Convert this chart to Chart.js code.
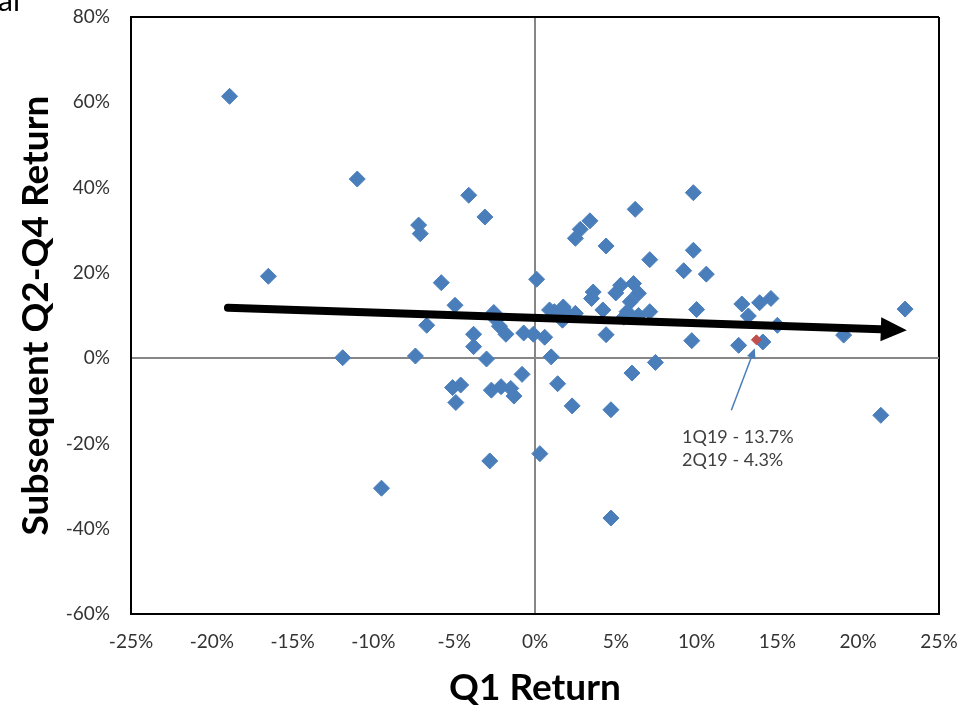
<!DOCTYPE html>
<html>
<head>
<meta charset="utf-8">
<script src="https://cdn.jsdelivr.net/npm/chart.js@4.4.0/dist/chart.umd.min.js"></script>
<style>
html,body{margin:0;padding:0;background:#fff;}
#wrap{width:971px;height:708px;position:relative;}
</style>
</head>
<body>
<div id="wrap"><canvas id="c" width="971" height="708"></canvas></div>
<script>
// Q1 return (%) for each year
const q1Returns = [
  -18.9, -16.5, -11.9, -11.0, -9.5, -7.4, -7.2, -7.1, -6.7, -5.8,
  -5.1, -4.9, -4.95, -4.6, -4.1, -3.8, -3.8, -3.1, -3.0, -2.8,
  -2.7, -2.55, -2.4, -2.2, -2.1, -1.8, -1.5, -1.3, -0.8, -0.7,
  -0.1, 0.1, 0.3, 0.6, 1.0, 0.9, 1.2, 1.75, 2.0, 1.7,
  2.5, 1.4, 2.3, 2.5, 2.8, 3.4, 3.6, 3.5, 4.2, 4.4,
  4.4, 4.7, 4.7, 5.0, 5.3, 5.7, 5.9, 5.5, 6.0, 6.1,
  6.2, 6.4, 6.4, 7.1, 7.1, 7.45, 9.2, 9.7, 9.8, 9.8,
  10.0, 10.6, 12.6, 12.8, 13.2, 13.9, 14.1, 14.6, 15.0, 19.1,
  21.4, 22.9
];
// Subsequent Q2-Q4 return (%) for the same years
const laterReturns = [
  61.4, 19.2, 0.1, 42.0, -30.5, 0.5, 31.2, 29.2, 7.7, 17.7,
  -6.9, -10.4, 12.4, -6.3, 38.2, 5.6, 2.7, 33.1, -0.2, -24.1,
  -7.5, 10.7, 9.0, 7.5, -6.7, 5.6, -7.1, -8.9, -3.8, 5.9,
  5.6, 18.5, -22.4, 4.9, 0.3, 11.3, 10.9, 12.0, 10.5, 8.9,
  10.5, -6.0, -11.2, 28.1, 30.2, 32.2, 15.5, 14.0, 11.3, 26.3,
  5.5, -12.1, -37.5, 15.3, 17.1, 10.9, 13.2, 9.6, -3.5, 17.5,
  34.9, 15.2, 10.0, 23.1, 10.9, -1.0, 20.5, 4.1, 25.3, 38.8,
  11.4, 19.7, 3.0, 12.7, 9.9, 13.0, 3.8, 14.0, 7.7, 5.4,
  -13.4, 11.5
];
// Highlighted year (1Q19 -> 2Q19)
const highlightX = [13.7];
const highlightY = [4.3];
// Trend arrow (start, end of shaft)
const trendX = [-19.0, 21.4];
const trendY = [11.8, 6.75];
// Tick values
const xTicks = [-25, -20, -15, -10, -5, 0, 5, 10, 15, 20, 25];
const yTicks = [-60, -40, -20, 0, 20, 40, 60, 80];
// Annotation
const noteLines = ['1Q19 - 13.7%', '2Q19 - 4.3%'];
const noteTextX = [9.1];
const noteTextY = [-18.5, -24.0];
const noteArrowX = [12.15, 13.6];
const noteArrowY = [-12.2, 2.3];

const BLUE = '#4a7ebb';
const RED = '#c0504d';

const toPts = (xs, ys) => xs.map((x, i) => ({x: x, y: ys[i]}));

const overlay = {
  id: 'overlay',
  afterDatasetsDraw(chart) {
    const ctx = chart.ctx;
    const xs = chart.scales.x, ys = chart.scales.y;
    // trend arrowhead
    const meta = chart.getDatasetMeta(0);
    const p0 = meta.data[0], p1 = meta.data[1];
    const dx = p1.x - p0.x, dy = p1.y - p0.y;
    const len = Math.hypot(dx, dy);
    const ux = dx / len, uy = dy / len;
    const L = 26, H = 12;
    ctx.save();
    ctx.fillStyle = '#000';
    ctx.beginPath();
    ctx.moveTo(p1.x + ux * L, p1.y + uy * L);
    ctx.lineTo(p1.x - uy * H, p1.y + ux * H);
    ctx.lineTo(p1.x + uy * H, p1.y - ux * H);
    ctx.closePath();
    ctx.fill();
    // annotation arrow
    const ax0 = xs.getPixelForValue(noteArrowX[0]), ay0 = ys.getPixelForValue(noteArrowY[0]);
    const ax1 = xs.getPixelForValue(noteArrowX[1]), ay1 = ys.getPixelForValue(noteArrowY[1]);
    const adx = ax1 - ax0, ady = ay1 - ay0, al = Math.hypot(adx, ady);
    const vx = adx / al, vy = ady / al;
    const hl = 10, hw = 4.5;
    ctx.strokeStyle = BLUE;
    ctx.lineWidth = 1.5;
    ctx.beginPath();
    ctx.moveTo(ax0, ay0);
    ctx.lineTo(ax1 - vx * hl * 0.8, ay1 - vy * hl * 0.8);
    ctx.stroke();
    ctx.fillStyle = BLUE;
    ctx.beginPath();
    ctx.moveTo(ax1, ay1);
    ctx.lineTo(ax1 - vx * hl - vy * hw, ay1 - vy * hl + vx * hw);
    ctx.lineTo(ax1 - vx * hl + vy * hw, ay1 - vy * hl - vx * hw);
    ctx.closePath();
    ctx.fill();
    // annotation text
    ctx.fillStyle = '#404040';
    ctx.font = '18px Lato';
    ctx.textAlign = 'left';
    ctx.textBaseline = 'middle';
    noteLines.forEach((t, i) => {
      ctx.fillText(t, xs.getPixelForValue(noteTextX[0]), ys.getPixelForValue(noteTextY[i]));
    });
    ctx.restore();
  },
  afterDraw(chart) {
    const ctx = chart.ctx;
    ctx.save();
    ctx.fillStyle = '#000';
    ctx.font = '30px Lato';
    ctx.textBaseline = 'alphabetic';
    ctx.textAlign = 'left';
    ctx.fillText('al', -2, 11);
    ctx.restore();
  }
};

function gridColor(ctx, max) {
  const v = ctx.tick ? ctx.tick.value : null;
  if (v === 0) return '#868686';
  if (v === max) return '#000000';
  return 'rgba(0,0,0,0)';
}

new Chart(document.getElementById('c'), {
  type: 'scatter',
  data: {
    datasets: [
      {
        type: 'line',
        data: toPts(trendX, trendY),
        borderColor: '#000',
        borderWidth: 8,
        borderCapStyle: 'round',
        pointRadius: 0,
        fill: false,
        order: 0
      },
      {
        data: toPts(highlightX, highlightY),
        pointStyle: 'rectRot',
        pointRadius: 5,
        backgroundColor: RED,
        borderColor: RED,
        borderWidth: 1,
        order: 1
      },
      {
        data: toPts(q1Returns, laterReturns),
        pointStyle: 'rectRot',
        pointRadius: 8,
        backgroundColor: BLUE,
        borderColor: BLUE,
        borderWidth: 1,
        order: 2
      }
    ]
  },
  options: {
    responsive: false,
    animation: false,
    devicePixelRatio: 1,
    layout: {padding: {top: 17, right: 32, left: 0, bottom: 0}},
    plugins: {legend: {display: false}, tooltip: {enabled: false}},
    scales: {
      x: {
        type: 'linear',
        min: xTicks[0], max: xTicks[xTicks.length - 1],
        afterBuildTicks: s => { s.ticks = xTicks.map(v => ({value: v})); },
        afterFit: s => { s.height = 94; s.paddingLeft = 0; s.paddingRight = 0; },
        ticks: {
          callback: v => v + '%',
          color: '#333',
          font: {family: 'Lato', size: 19},
          padding: 16,
          maxRotation: 0
        },
        grid: {
          drawTicks: false,
          color: c => gridColor(c, xTicks[xTicks.length - 1]),
          lineWidth: 2
        },
        border: {display: true, color: '#000', width: 2},
        title: {
          display: true,
          text: 'Q1 Return',
          color: '#000',
          font: {family: 'Lato', size: 37, weight: 'bold', lineHeight: 1},
          padding: {top: 0, bottom: 1}
        }
      },
      y: {
        type: 'linear',
        min: yTicks[0], max: yTicks[yTicks.length - 1],
        afterBuildTicks: s => { s.ticks = yTicks.map(v => ({value: v})); },
        afterFit: s => { s.width = 131; s.paddingTop = 0; s.paddingBottom = 0; },
        ticks: {
          callback: v => v + '%',
          color: '#333',
          font: {family: 'Lato', size: 19},
          padding: 21
        },
        grid: {
          drawTicks: false,
          color: c => gridColor(c, yTicks[yTicks.length - 1]),
          lineWidth: 2
        },
        border: {display: true, color: '#000', width: 2},
        title: {
          display: true,
          text: 'Subsequent Q2-Q4 Return',
          color: '#000',
          font: {family: 'Lato', size: 37, weight: 'bold', lineHeight: 1},
          padding: {top: 18, bottom: 0}
        }
      }
    }
  },
  plugins: [overlay]
});
</script>
</body>
</html>
